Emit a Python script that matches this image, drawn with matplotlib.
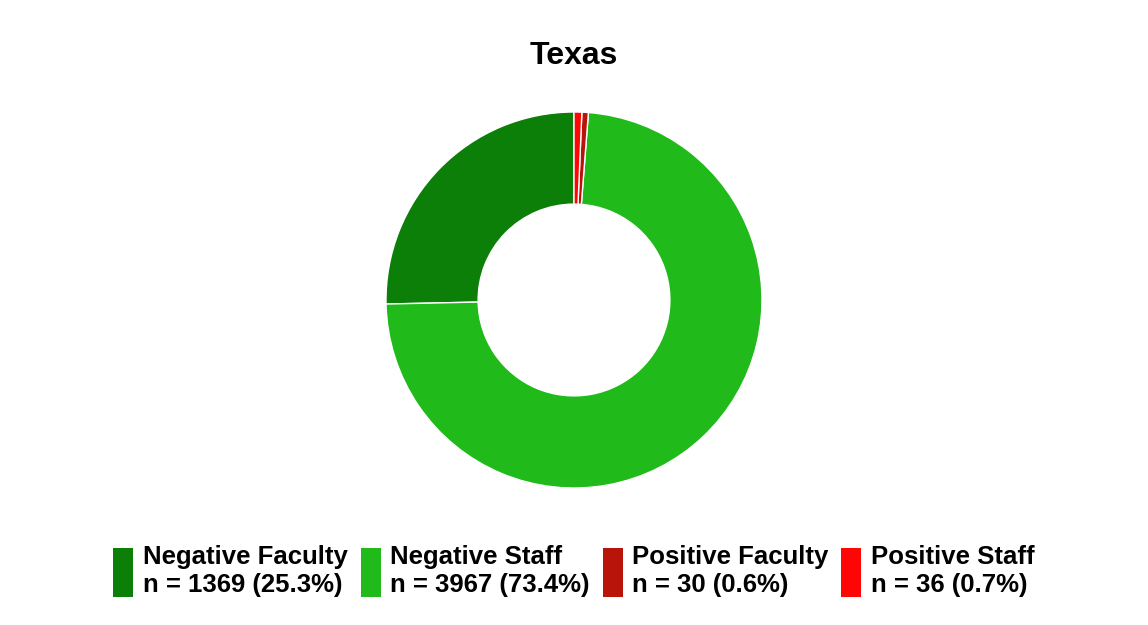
import matplotlib.pyplot as plt

plt.rcParams["font.family"] = ["Liberation Sans", "DejaVu Sans"]

labels = ["Negative Faculty", "Negative Staff", "Positive Faculty", "Positive Staff"]
counts = [1369, 3967, 30, 36]
percents = [25.3, 73.4, 0.6, 0.7]
colors = ["#0b7f08", "#20ba1a", "#b9140a", "#fe0606"]

fig = plt.figure(figsize=(11.48, 6.25), dpi=100)
fig.patch.set_facecolor("white")

# square axes in pixel terms: centre (574, 300), radius ~188
ax = fig.add_axes([(574 - 188) / 1148, (625 - 300 - 188) / 625, 376 / 1148, 376 / 625])
wedges, _ = ax.pie(
    counts,
    colors=colors,
    startangle=90,
    counterclock=True,
    radius=1.0,
    wedgeprops=dict(width=0.49, edgecolor="white", linewidth=1.0),
)
ax.set_xlim(-1, 1)
ax.set_ylim(-1, 1)
ax.axis("off")

fig.text(574 / 1148, 1 - 56 / 625, "Texas", ha="center", va="center",
         fontsize=23, fontweight="bold")

legend_labels = [f"{l}\nn = {c} ({p}%)" for l, c, p in zip(labels, counts, percents)]
leg = fig.legend(
    wedges,
    legend_labels,
    loc="center",
    bbox_to_anchor=(574 / 1148, 1 - 571 / 625),
    ncol=4,
    frameon=False,
    prop=dict(size=18.5, weight="bold"),
    handlelength=0.78,
    handleheight=2.6,
    handletextpad=0.37,
    columnspacing=0.5,
    labelspacing=0.2,
)
for h in leg.legend_handles:
    h.set_edgecolor("none")
for t in leg.get_texts():
    t.set_linespacing(1.22)

fig.savefig("out.png", dpi=100, facecolor="white")
